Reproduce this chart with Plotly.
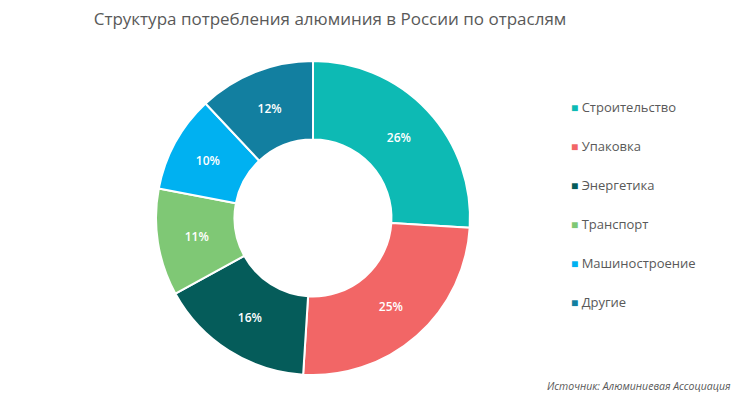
import plotly.graph_objects as go

categories = ["Строительство", "Упаковка", "Энергетика", "Транспорт", "Машиностроение", "Другие"]
values = [26, 25, 16, 11, 10, 12]
colors = ["#0DBAB4", "#F26666", "#055C5A", "#7FC875", "#00B1F1", "#127FA0"]

title_text = "Структура потребления алюминия в России по отраслям"
source_text = "Источник: Алюминиевая Ассоциация"

# page body has an 8px margin, so the figure is drawn 8px smaller
W, H = 747, 392
cx, cy, r = 305, 210, 157

fig = go.Figure()
fig.add_trace(go.Pie(
    labels=categories,
    values=values,
    hole=0.5,
    sort=False,
    direction="clockwise",
    rotation=0,
    marker=dict(colors=colors, line=dict(color="white", width=2)),
    texttemplate="%{value}%",
    textposition="inside",
    insidetextorientation="horizontal",
    textfont=dict(color="white", size=12, family="Open Sans", weight=600),
    showlegend=False,
    hoverinfo="label+percent",
    domain=dict(x=[(cx - r) / W, (cx + r) / W], y=[(H - cy - r) / H, (H - cy + r) / H]),
))

for i, (cat, col) in enumerate(zip(categories, colors)):
    fig.add_trace(go.Scatter(
        x=[None], y=[None], mode="markers",
        name=f"<span style='color:{col};font-size:12px'>■</span> {cat}",
        marker=dict(symbol="square", size=1, color="rgba(0,0,0,0)",
                    line=dict(width=0, color="rgba(0,0,0,0)")),
        legendgroup=f"g{i}", showlegend=True, hoverinfo="skip",
    ))

fig.update_layout(
    width=W, height=H,
    margin=dict(l=0, r=0, t=0, b=0),
    paper_bgcolor="white", plot_bgcolor="white",
    title=dict(text=title_text, x=322 / W, xanchor="center", y=1 - 11 / H, yanchor="middle",
               font=dict(family="Open Sans", size=17, color="#595959")),
    xaxis=dict(visible=False), yaxis=dict(visible=False),
    legend=dict(x=523 / W, xanchor="left", y=1 - 84 / H, yanchor="top",
                font=dict(family="Open Sans", size=13, color="#595959"),
                tracegroupgap=19, itemwidth=30, bgcolor="rgba(0,0,0,0)"),
    annotations=[dict(text=f"<i>{source_text}</i>", x=725 / W, y=1 - 378 / H, xref="paper", yref="paper",
                      xanchor="right", yanchor="middle", showarrow=False,
                      font=dict(family="Open Sans", size=10.5, color="#595959"))],
)

fig.write_html("out.html")
